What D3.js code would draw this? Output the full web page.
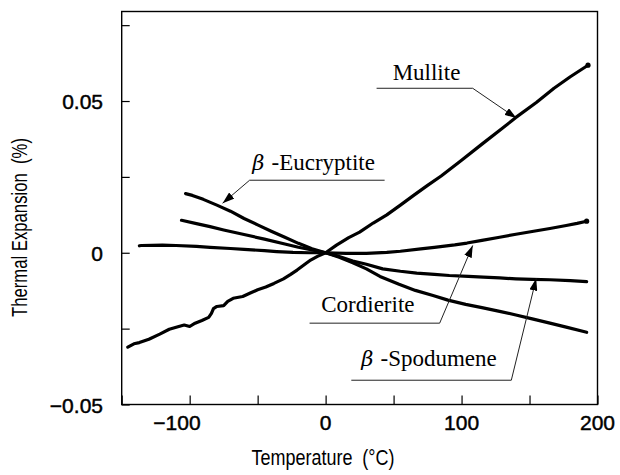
<!DOCTYPE html>
<html>
<head>
<meta charset="utf-8">
<script src="https://cdn.jsdelivr.net/npm/d3@7"></script>
<style>
  html, body { margin: 0; padding: 0; background: #fff; }
  svg { display: block; }
</style>
</head>
<body>
<svg id="chart" width="620" height="475"></svg>
<script>
// Thermal expansion (%) versus temperature (°C), each series as [temperature, expansion]
const mullite = [
  [-145.5,-0.0311],[-141,-0.0300],[-137,-0.0296],[-130,-0.0285],[-122,-0.0268],[-115,-0.0252],
  [-108,-0.0243],[-104,-0.0238],[-100,-0.0243],[-96,-0.0232],[-91,-0.0223],[-86,-0.0213],
  [-84,-0.0200],[-82.5,-0.0184],[-80,-0.0177],[-75,-0.0174],[-72,-0.0160],[-68,-0.0150],
  [-61,-0.0144],[-55,-0.0132],[-50,-0.0122],[-44,-0.0113],[-38,-0.0101],[-31,-0.0086],
  [-26,-0.0072],[-21,-0.0057],[-15,-0.0037],[-11,-0.0024],[-6,-0.0012],[0,0],
  [8,0.0025],[17,0.0050],[25,0.0068],[35,0.0098],[45,0.0125],[55,0.0157],[65,0.0190],
  [75,0.0222],[85,0.0253],[100,0.0305],[115,0.0358],[130,0.0410],[140,0.0446],
  [155,0.0495],[168,0.0542],[180,0.0580],[193,0.0618]
];
const cordierite = [
  [-137,0.0023],[-135.5,0.0024],[-120,0.0025],[-110,0.0024],[-95,0.0021],[-85,0.0018],
  [-70,0.0014],[-60,0.0011],[-45,0.0007],[-36,0.0004],[-24,0.0001],[-12,0],[0,0],
  [15,-0.0002],[30,-0.0002],[45,0.0001],[55,0.0005],[70,0.0013],[80,0.0018],[95,0.0026],
  [104,0.0032],[115,0.0041],[128,0.0051],[140,0.0061],[153,0.0071],[165,0.0080],
  [177,0.0090],[185,0.0097],[192,0.0104]
];
const spodumene = [
  [-106,0.0107],[-95,0.0096],[-85,0.0086],[-75,0.0075],[-60,0.0060],[-45,0.0045],
  [-30,0.0029],[-20,0.0018],[-10,0.0009],[0,0],[10,-0.0012],[20,-0.0027],[30,-0.0038],
  [42,-0.0053],[55,-0.0061],[67,-0.0067],[80,-0.0071],[91,-0.0075],[105,-0.0078],
  [116,-0.0080],[128,-0.0083],[140,-0.0086],[152,-0.0088],[165,-0.0089],[180,-0.0092],
  [192,-0.0095]
];
const eucryptite = [
  [-103,0.0195],[-98,0.0189],[-90,0.0176],[-80,0.0157],[-70,0.0137],[-60,0.0113],
  [-50,0.0092],[-40,0.0071],[-30,0.0051],[-20,0.0031],[-10,0.0013],[0,0],
  [10,-0.0015],[20,-0.0033],[30,-0.0053],[40,-0.0078],[54,-0.0104],[66,-0.0124],
  [79,-0.0141],[90,-0.0156],[103,-0.0170],[115,-0.0181],[128,-0.0193],[140,-0.0205],
  [152,-0.0218],[165,-0.0232],[177,-0.0245],[192,-0.0262]
];

// Axis ticks and labels
const xTicks = [-150, -100, -50, 0, 50, 100, 150, 200];
const xTickLabels = [-100, 0, 100, 200];
const yTicks = [-0.05, -0.025, 0, 0.025, 0.05, 0.075];
const yTickLabels = [-0.05, 0, 0.05];
const xTitle = "Temperature  (°C)";
const yTitle = "Thermal Expansion  (%)";

// Callout labels: text position and leader path [start, elbow, arrow tip], all in data units
const labelNames = ["Mullite", "-Eucryptite", "Cordierite", "-Spodumene"];
const labelBeta = [false, true, false, true];
const labelAt = [[49.3, 0.0568], [-53.9, 0.0272], [-3.2, -0.0196], [26.3, -0.0372]];
const leaders = [
  [[37.5, 0.0542], [108.2, 0.0542], [140.5, 0.0443]],
  [[43.4, 0.0239], [-55.9, 0.0239], [-75.8, 0.0163]],
  [[-11.8, -0.0232], [83.9, -0.0232], [108.2, 0.0024]],
  [[18.9, -0.0420], [136.6, -0.0420], [154.9, -0.0085]]
];

const svg = d3.select("#chart");

const x = d3.scaleLinear().domain([-150, 200]).range([121.7, 597.5]);
const y = d3.scaleLinear().domain([-0.05, 0.0795]).range([404.5, 11.5]);

const fmtY = v => v === 0 ? "0" : (v < 0 ? "\u2212" : "") + Math.abs(v).toFixed(2);
const fmtX = v => (v < 0 ? "\u2212" : "") + Math.abs(v);

// Bottom axis: inward ticks, labels on the major ticks only
const xAxis = svg.append("g").attr("transform", `translate(0,${y.range()[0]})`)
  .call(d3.axisBottom(x).tickValues(xTicks).tickSizeInner(-9).tickSizeOuter(0).tickFormat(""));
xAxis.select(".domain").remove();
xAxis.selectAll(".tick line").attr("stroke", "#000").attr("stroke-width", 1.2);

svg.append("g").selectAll("text").data(xTickLabels).join("text")
  .attr("x", d => d < 0 ? x(d) + 11 : x(d))
  .attr("y", 430)
  .attr("text-anchor", d => d < 0 ? "end" : "middle")
  .attr("font-family", "Liberation Sans, Arial, sans-serif")
  .attr("font-size", 21)
  .attr("stroke", "#000").attr("stroke-width", 0.45)
  .text(fmtX);

// Left axis
const yAxis = svg.append("g").attr("transform", `translate(${x.range()[0]},0)`)
  .call(d3.axisLeft(y).tickValues(yTicks).tickSizeInner(-8).tickSizeOuter(0).tickFormat(""));
yAxis.select(".domain").remove();
yAxis.selectAll(".tick line").attr("stroke", "#000").attr("stroke-width", 1.2);

svg.append("g").selectAll("text").data(yTickLabels).join("text")
  .attr("x", 103)
  .attr("y", d => y(d) + 8)
  .attr("text-anchor", "end")
  .attr("font-family", "Liberation Sans, Arial, sans-serif")
  .attr("font-size", 21)
  .attr("stroke", "#000").attr("stroke-width", 0.45)
  .text(fmtY);

// Plot frame
svg.append("rect")
  .attr("x", x.range()[0]).attr("y", y.range()[1])
  .attr("width", x.range()[1] - x.range()[0])
  .attr("height", y.range()[0] - y.range()[1])
  .attr("fill", "none").attr("stroke", "#000").attr("stroke-width", 1.4);

// Axis titles (tall, narrow sans)
svg.append("text")
  .attr("x", 323).attr("y", 465)
  .attr("text-anchor", "middle")
  .attr("font-family", "Liberation Sans, Arial, sans-serif")
  .attr("font-size", 22)
  .attr("textLength", 143).attr("lengthAdjust", "spacingAndGlyphs")
  .style("white-space", "pre")
  .text(xTitle);

svg.append("text")
  .attr("transform", "translate(27,227.5) rotate(-90)")
  .attr("text-anchor", "middle")
  .attr("font-family", "Liberation Sans, Arial, sans-serif")
  .attr("font-size", 22)
  .attr("textLength", 179).attr("lengthAdjust", "spacingAndGlyphs")
  .style("white-space", "pre")
  .text(yTitle);

// Curves
const line = d3.line().x(d => x(d[0])).y(d => y(d[1])).curve(d3.curveLinear);
const series = [mullite, cordierite, spodumene, eucryptite];
svg.append("g").selectAll("path").data(series).join("path")
  .attr("d", line)
  .attr("fill", "none")
  .attr("stroke", "#000")
  .attr("stroke-width", 3.2)
  .attr("stroke-linejoin", "round")
  .attr("stroke-linecap", "round");

// End dots on the rising curves
svg.append("g").selectAll("circle").data([mullite, cordierite]).join("circle")
  .attr("cx", d => x(d[d.length - 1][0]))
  .attr("cy", d => y(d[d.length - 1][1]))
  .attr("r", 2.6)
  .attr("fill", "#000");

// Callout leaders with arrowheads
svg.append("defs").append("marker")
  .attr("id", "arrow")
  .attr("viewBox", "0 0 12 8")
  .attr("refX", 12).attr("refY", 4)
  .attr("markerWidth", 12).attr("markerHeight", 8)
  .attr("markerUnits", "userSpaceOnUse")
  .attr("orient", "auto")
  .append("path").attr("d", "M0,0 L12,4 L0,8 Z").attr("fill", "#000");

svg.append("g").selectAll("path").data(leaders).join("path")
  .attr("d", d => "M" + d.map(p => [x(p[0]), y(p[1])].join(",")).join("L"))
  .attr("fill", "none")
  .attr("stroke", "#222")
  .attr("stroke-width", 1)
  .attr("marker-end", "url(#arrow)");

// Callout texts
const labels = svg.append("g").selectAll("text").data(labelNames).join("text")
  .attr("x", (d, i) => x(labelAt[i][0]))
  .attr("y", (d, i) => y(labelAt[i][1]))
  .attr("font-family", "Liberation Serif, Times New Roman, serif")
  .attr("font-size", 23)
  .attr("fill", "#000");

labels.each(function(d, i) {
  const t = d3.select(this);
  if (labelBeta[i]) {
    t.append("tspan").attr("font-style", "italic").attr("font-family", "DejaVu Serif, serif")
      .attr("font-size", 21).text("\u03B2");
    t.append("tspan").attr("dx", 7).text(d);
  } else {
    t.text(d);
  }
});
</script>
</body>
</html>
